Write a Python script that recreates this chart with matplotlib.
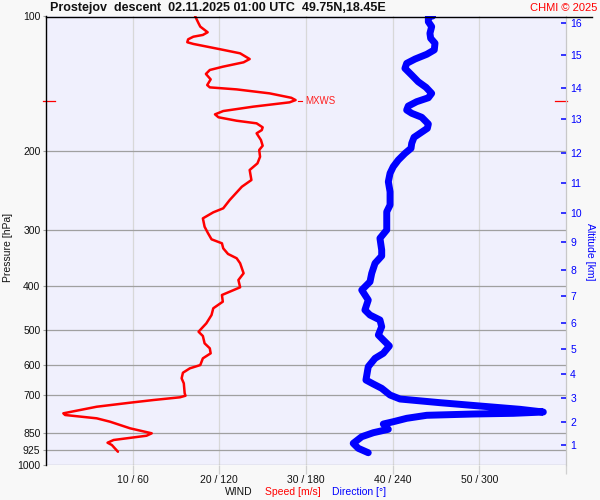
import numpy as np
import matplotlib
matplotlib.use("Agg")
import matplotlib.pyplot as plt
from matplotlib.lines import Line2D

plt.rcParams['font.family'] = ['Liberation Sans', 'DejaVu Sans']

# ===================== data =====================
# wind speed profile [m/s] vs pressure [hPa]
speed_p = [100.0, 103.8, 105.6, 107.4, 108.7, 110.2, 111.2, 112.7, 114.4, 115.4,
           118.6, 121.1, 124.7, 126.8, 129.7, 131.9, 134.6, 138.4, 142.5, 144.2,
           145.7, 148.7, 152.1, 153.9, 155.7, 159.2, 162.8, 165.6, 168.1, 171.1,
           173.4, 177.0, 179.5, 182.5, 188.9, 194.5, 198.8, 205.8, 212.9, 220.3,
           231.9, 240.0, 256.9, 268.1, 273.7, 282.3, 294.7, 304.8, 314.3, 320.8,
           329.2, 338.8, 346.4, 355.4, 374.1, 387.3, 402.0, 411.2, 418.2, 432.8,
           447.7, 463.4, 483.6, 504.9, 516.1, 535.8, 549.7, 564.0, 578.7, 599.0,
           609.1, 623.0, 641.2, 657.8, 692.4, 701.0, 706.7, 716.6, 726.5, 741.7,
           767.2, 773.8, 787.1, 801.0, 828.5, 850.0, 860.6, 879.7, 892.0, 902.6,
           934.2]
speed = [17.2, 17.6, 17.8, 18.3, 18.65, 18.1, 17.0, 16.4, 16.3, 17.0,
         20.1, 22.4, 23.5, 22.8, 20.4, 18.9, 18.45, 19.0, 18.6, 18.9,
         22.0, 25.8, 28.3, 28.8, 28.1, 23.9, 20.45, 19.5, 19.9, 22.0,
         24.3, 25.0, 24.9, 24.3, 24.8, 25.0, 24.6, 24.7, 24.4, 23.5,
         23.7, 22.6, 21.2, 20.45, 19.3, 18.1, 18.3, 18.7, 19.1, 20.3,
         20.45, 21.0, 22.0, 22.4, 22.8, 22.2, 22.4, 21.2, 20.3, 20.4,
         19.3, 19.1, 18.5, 17.6, 18.1, 18.3, 18.9, 19.0, 18.1, 17.8,
         16.6, 15.8, 15.65, 15.9, 16.0, 16.1, 15.45, 12.4, 9.7, 5.85,
         2.0, 2.2, 5.85, 7.4, 9.7, 12.2, 11.6, 7.8, 7.1, 7.6,
         8.3]

# wind direction profile [deg] vs pressure [hPa]
dir_p = [100.0, 100.4, 103.0, 105.6, 109.3, 112.1, 115.0, 119.0, 121.7, 124.7,
         127.5, 130.8, 135.4, 140.1, 144.2, 148.7, 152.1, 155.2, 158.7, 162.0,
         164.7, 168.1, 174.0, 177.9, 182.5, 186.3, 192.1, 197.1, 202.3, 209.3,
         216.6, 224.0, 233.9, 246.3, 263.6, 272.9, 284.7, 299.6, 312.6, 332.0,
         342.3, 355.4, 374.2, 390.7, 407.7, 429.1, 451.7, 463.4, 475.4, 492.0,
         513.4, 526.7, 543.2, 564.0, 578.7, 603.9, 646.8, 660.1, 674.9, 698.5,
         712.9, 726.5, 739.0, 751.6, 762.1, 767.2, 769.9, 775.0, 787.1, 801.0,
         810.5, 832.7, 847.4, 865.0, 894.9, 918.0, 939.0]
direction = [267.7, 264.7, 264.7, 267.0, 265.8, 266.3, 269.3, 268.8, 263.6, 255.5,
             249.7, 248.5, 253.2, 257.7, 263.1, 267.0, 264.7, 256.6, 250.8, 249.7,
             253.2, 260.1, 264.7, 264.0, 258.9, 254.8, 253.2, 252.7, 248.5, 243.9,
             240.4, 238.2, 237.0, 238.2, 238.2, 235.9, 235.9, 235.9, 231.2, 232.4,
             232.4, 227.8, 225.5, 224.3, 218.6, 223.1, 220.8, 224.3, 231.2, 232.4,
             230.1, 233.5, 237.7, 233.5, 227.8, 223.1, 221.5, 226.6, 232.4, 238.2,
             245.1, 272.8, 300.5, 328.2, 344.3, 323.5, 295.8, 263.6, 249.7, 240.4,
             233.5, 237.0, 226.6, 218.6, 212.7, 216.2, 223.1]

# maximum wind
mxws_p = 154.5
mxws_speed = 28.8

# axis ticks
p_ticks = [100, 200, 300, 400, 500, 600, 700, 850, 925, 1000]
x_ticks = [10, 20, 30, 40, 50, 60]
x_labels = ['10 / 60', '20 / 120', '30 / 180', '40 / 240', '50 / 300', '']
alt_p = [903.9, 802.0, 710.0, 627.8, 552.0, 483.0, 421.3, 367.9, 319.2,
         274.5, 235.3, 201.7, 169.4, 144.4, 121.9, 103.7]
alt_km = [str(k) for k in range(1, 17)]

title = "Prostejov  descent  02.11.2025 01:00 UTC  49.75N,18.45E"

# ===================== plot =====================
W, H = 600, 500
fig = plt.figure(figsize=(6, 5), dpi=100, facecolor='#f8f8f8')
ax = fig.add_axes([46 / W, 35 / H, 520 / W, 449 / H])
ax.set_facecolor('#f0f0fd')
ax.set_yscale('log')
ax.set_ylim(1000, 100)
ax.set_xlim(0, 60)

# grid
for p in p_ticks[1:]:
    ax.axhline(p, color='#a0a0a0', lw=0.9, zorder=1)
for x in x_ticks[:-1]:
    ax.axvline(x, color='#d8d8d8', lw=0.9, zorder=0.5)

ax.set_yticks(p_ticks)
ax.set_yticklabels([str(p) for p in p_ticks])
ax.minorticks_off()
ax.tick_params(axis='y', which='both', length=2.5, color='#a0a0a0', pad=1.5,
               labelsize=7.5, labelcolor='#111111')
ax.set_xticks(x_ticks)
ax.set_xticklabels(x_labels)
ax.tick_params(axis='x', length=6.5, color='#d0d0d0', width=0.9, pad=1,
               labelsize=7.5, labelcolor='#111111')

for s in ['top', 'bottom']:
    ax.spines[s].set_visible(False)
ax.spines['left'].set_color('black')
ax.spines['left'].set_linewidth(1.0)
ax.spines['right'].set_color('#c8c8c8')
ax.spines['right'].set_linewidth(0.9)

# wind speed
ax.plot(speed, speed_p, color='#ff0000', lw=1.8, zorder=4,
        solid_joinstyle='round', solid_capstyle='round')

# MXWS marker
ax.plot([mxws_speed + 0.3, mxws_speed + 0.7], [mxws_p, mxws_p], color='#ff0000', lw=0.8)
ax.text(mxws_speed + 1.1, mxws_p, 'MXWS', color='#ff2020', fontsize=7,
        va='center', ha='left')
yt = ax.get_yaxis_transform()
ax.plot([-3 / 520, 9 / 520], [mxws_p, mxws_p], color='#ff0000', lw=0.9,
        transform=yt, clip_on=False)
ax.plot([509 / 520, 521 / 520], [mxws_p, mxws_p], color='#ff0000', lw=0.9,
        transform=yt, clip_on=False)

# wind direction on its own 0-360 scale
ax_dir = ax.twiny()
ax_dir.set_xlim(0, 360)
ax_dir.plot(direction, dir_p, color='#0000ff', lw=5, zorder=4,
            solid_joinstyle='round', solid_capstyle='round')
ax_dir.set_xticks([])
for s in ax_dir.spines.values():
    s.set_visible(False)

# altitude axis
ax_alt = ax.twinx()
ax_alt.set_yscale('log')
ax_alt.set_ylim(1000, 100)
ax_alt.set_yticks(alt_p)
ax_alt.set_yticklabels(alt_km)
ax_alt.minorticks_off()
ax_alt.tick_params(axis='y', direction='in', length=3.8, width=1.1,
                   color='#0000ff', labelcolor='#0000ff', labelsize=7.5, pad=3)
for s in ax_alt.spines.values():
    s.set_visible(False)

# top line + texts
fig.add_artist(Line2D([46 / W, 592 / W], [1 - 16.5 / H, 1 - 16.5 / H],
                      color='black', lw=1.0))
fig.text(50 / W, 1 - 8 / H, title, fontsize=9, fontweight='bold',
         ha='left', va='center', color='#111111')
fig.text(597 / W, 1 - 8 / H, 'CHMI \u00a9 2025', fontsize=8, color='#ff0000',
         ha='right', va='center')

fig.text(8 / W, 1 - 247 / H, 'Pressure [hPa]', rotation=90, fontsize=7.5,
         ha='center', va='center', color='#111111')
fig.text(590 / W, 1 - 252 / H, 'Altitude [km]', rotation=270, fontsize=7.5,
         ha='center', va='center', color='#0000ff')

fig.text(225 / W, 1 - 492 / H, 'WIND', fontsize=7.5, color='#111111',
         ha='left', va='center')
fig.text(265 / W, 1 - 492 / H, 'Speed [m/s]', fontsize=7.5, color='#ff0000',
         ha='left', va='center')
fig.text(332 / W, 1 - 492 / H, 'Direction [\u00b0]', fontsize=7.5, color='#0000ff',
         ha='left', va='center')

fig.savefig('out.png', dpi=100, facecolor=fig.get_facecolor())
